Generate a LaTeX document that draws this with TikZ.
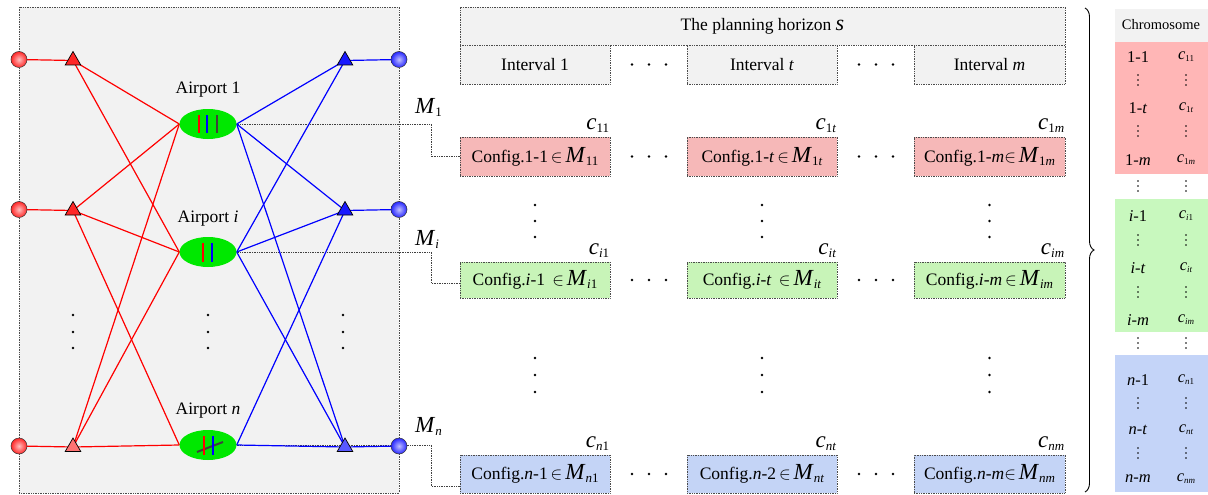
\RequirePackage{fix-cm}
\documentclass[tikz,border=0pt]{standalone}
\usepackage{fontspec}
\setmainfont{Liberation Serif}
\usetikzlibrary{shapes.geometric,decorations.pathreplacing,calc}
\pgfdeclarelayer{back}\pgfdeclarelayer{mid}\pgfsetlayers{back,mid,main}
\definecolor{apgreen}{RGB}{0,232,0}
\definecolor{cfgred}{RGB}{246,184,184}
\definecolor{cfggreen}{RGB}{200,244,184}
\definecolor{cfgblue}{RGB}{196,212,246}
\definecolor{chred}{RGB}{255,182,182}
\definecolor{chgreen}{RGB}{200,248,190}
\definecolor{chblue}{RGB}{196,212,248}
\definecolor{panelgray}{RGB}{242,242,242}
\newcommand{\Msub}[1]{{\fontsize{23}{24}\selectfont\textit{M}}\raisebox{-3pt}{\fontsize{13}{14}\selectfont #1}}
\newcommand{\Csub}[1]{{\fontsize{23}{24}\selectfont\textit{c}}\raisebox{-3pt}{\fontsize{13}{14}\selectfont #1}}
\newcommand{\Csmall}[1]{\textit{c}\raisebox{-2pt}{\fontsize{9}{10}\selectfont #1}}
\begin{document}
\begin{tikzpicture}[x=1pt,y=-1pt,font=\fontsize{17.5}{20}\selectfont,
  redl/.style={red, line width=1.2pt},
  bluel/.style={blue, line width=1.2pt},
  conn/.style={densely dotted, black!75, line width=0.7pt},
  endball/.style={circle, draw=black!80, line width=0.5pt, minimum size=16pt, inner sep=0pt},
  redball/.style={endball, shading=radial, inner color=red!25, outer color=red!85},
  blueball/.style={endball, shading=radial, inner color=blue!25, outer color=blue!85},
  tri/.style={regular polygon, regular polygon sides=3, draw=black, line width=0.7pt, minimum size=18pt, inner sep=0pt},
  airport/.style={ellipse, fill=apgreen, minimum width=57pt, minimum height=30pt, inner sep=0pt},
  frame/.style={draw=black!70, densely dotted, line width=0.7pt, inner sep=0pt, minimum width=150pt},
  clab/.style={anchor=south east, inner sep=1pt},
  chtxt/.style={font=\fontsize{16.5}{18}\selectfont, inner sep=0pt}]
\useasboundingbox (0,0) rectangle (1208,495);

% left panel
\begin{pgfonlayer}{back}
\draw[fill=panelgray, draw=black!70, densely dotted, line width=0.7pt] (19,7) rectangle (399,493);
\end{pgfonlayer}

% end balls
\node[redball] (L1) at (19,59.5) {};
\node[redball] (Li) at (19,209.5) {};
\node[redball] (Ln) at (19,446) {};
\node[blueball] (R1) at (399,59.5) {};
\node[blueball] (Ri) at (399,209.5) {};
\node[blueball] (Rn) at (399,446) {};

% triangles
\node[tri, fill=red!85] (TL1) at (73,60.5) {};
\node[tri, fill=red!85] (TLi) at (73,210.5) {};
\node[tri, fill=red!55] (TLn) at (73,447) {};
\node[tri, fill=blue!90] (TR1) at (345,60.5) {};
\node[tri, fill=blue!90] (TRi) at (345,210.5) {};
\node[tri, fill=blue!65] (TRn) at (345,447) {};

% airports
\node[airport] (A1) at (208,124) {};
\node[airport] (Ai) at (208,252) {};
\node[airport] (An) at (208,445) {};
\node (A1lab) at (208,90) {Airport 1};
\node (Ailab) at (208,219) {Airport \textit{i}};
\node (Anlab) at (208,411) {Airport \textit{n}};

\draw[red, line width=2pt] ($(A1)+(-9,-9)$) -- ++(0,18);
\draw[blue, line width=2pt] ($(A1)+(-1,-9)$) -- ++(0,18);
\draw[black!75, line width=2pt] ($(A1)+(9,-9)$) -- ++(0,18);
\draw[red, line width=2pt] ($(Ai)+(-5,-9)$) -- ++(0,19);
\draw[blue, line width=2pt] ($(Ai)+(4,-9)$) -- ++(0,19);
\draw[black!75, line width=2pt] ($(An)+(-11,7)$) -- ($(An)+(15,-3)$);
\draw[red, line width=2pt] ($(An)+(-4,-9)$) -- ++(0,19);
\draw[blue, line width=2pt] ($(An)+(5,-9)$) -- ++(0,19);

% vertical dots in panel
\foreach \x in {73,208,343}
  \foreach \y in {315,332,348}
    \fill (\x,\y) circle (1.4);

% planning horizon
\node[frame, fill=panelgray, minimum width=605pt, minimum height=38pt] (hor) at (762.5,26) {The planning horizon {\fontsize{22}{24}\selectfont\textit{s}}};
\node[frame, fill=panelgray, minimum height=39pt] (I1) at (535,64.5) {Interval 1};
\node[frame, fill=panelgray, minimum height=39pt] (It) at (762,64.5) {Interval \textit{t}};
\node[frame, fill=panelgray, minimum height=39pt, minimum width=151pt] (Im) at (989.5,64.5) {Interval \textit{m}};

% config rows
\node[frame, fill=cfgred, minimum height=39pt] (c11) at (535,156.5) {Config.1-1\,$\in$\,\Msub{11}};
\node[frame, fill=cfgred, minimum height=39pt] (c1t) at (762,156.5) {Config.1-\textit{t}\,$\in$\,\Msub{1\textit{t}}};
\node[frame, fill=cfgred, minimum height=39pt, minimum width=151pt] (c1m) at (989.5,156.5) {Config.1-\textit{m}$\in$\,\Msub{1\textit{m}}};

\node[frame, fill=cfggreen, minimum height=36pt] (ci1) at (535,280) {Config.\textit{i}-1 \,$\in$\,\Msub{\textit{i}1}};
\node[frame, fill=cfggreen, minimum height=36pt] (cit) at (762,280) {Config.\textit{i}-\textit{t} \,$\in$\,\Msub{\textit{it}}};
\node[frame, fill=cfggreen, minimum height=36pt, minimum width=151pt] (cim) at (989.5,280) {Config.\textit{i}-\textit{m}\,$\in$\,\Msub{\textit{im}}};

\node[frame, fill=cfgblue, minimum height=38pt] (cn1) at (535,474) {Config.\textit{n}-1\,$\in$\,\Msub{\textit{n}1}};
\node[frame, fill=cfgblue, minimum height=38pt] (cnt) at (762,474) {Config.\textit{n}-2\,$\in$\,\Msub{\textit{nt}}};
\node[frame, fill=cfgblue, minimum height=38pt, minimum width=151pt] (cnm) at (989.5,474) {Config.\textit{n}-\textit{m}$\in$\,\Msub{\textit{nm}}};

% c labels
\node[clab] (l11) at ([yshift=3pt]c11.north east) {\Csub{11}};
\node[clab] (l1t) at ([yshift=3pt]c1t.north east) {\Csub{1\textit{t}}};
\node[clab] (l1m) at ([yshift=3pt]c1m.north east) {\Csub{1\textit{m}}};
\node[clab] (li1) at ([yshift=3pt]ci1.north east) {\Csub{\textit{i}1}};
\node[clab] (lit) at ([yshift=3pt]cit.north east) {\Csub{\textit{it}}};
\node[clab] (lim) at ([yshift=3pt]cim.north east) {\Csub{\textit{im}}};
\node[clab] (ln1) at ([yshift=3pt]cn1.north east) {\Csub{\textit{n}1}};
\node[clab] (lnt) at ([yshift=3pt]cnt.north east) {\Csub{\textit{nt}}};
\node[clab] (lnm) at ([yshift=3pt]cnm.north east) {\Csub{\textit{nm}}};

% M labels
\node[anchor=west, inner sep=0pt] (M1) at (415,107) {\Msub{1}};
\node[anchor=west, inner sep=0pt] (Mi) at (415,239) {\Msub{\textit{i}}};
\node[anchor=west, inner sep=0pt] (Mn) at (415,426) {\Msub{\textit{n}}};

% horizontal dots
\foreach \y in {64.5,156.5,280,474}
  \foreach \x in {632,649,666,859,876,893}
    \fill (\x,\y) circle (1.4);
% vertical dots
\foreach \x in {535,762,989.5}
  \foreach \y in {205,221,237,358,375,392}
    \fill (\x,\y) circle (1.4);

% brace
\draw[decorate, decoration={brace, amplitude=9pt}, line width=0.9pt] (1085,8) -- (1085,492);

% chromosome
\fill[panelgray] (1115,9) rectangle (1208,42);
\fill[chred] (1115,42) rectangle (1208,174);
\fill[chgreen] (1115,199) rectangle (1208,332);
\fill[chblue] (1115,355) rectangle (1208,492);
\node[font=\fontsize{14.5}{16}\selectfont] (chr) at (1161,25) {Chromosome};
\foreach \y/\a/\b [count=\k] in {57/1-1/11, 108/1-\textit{t}/1\textit{t}, 160/1-\textit{m}/1\textit{m},
   216/\textit{i}-1/\textit{i}1, 268/\textit{i}-\textit{t}/\textit{it}, 320/\textit{i}-\textit{m}/\textit{im},
   380/\textit{n}-1/\textit{n}1, 430/\textit{n}-\textit{t}/\textit{nt}, 479/\textit{n}-\textit{m}/\textit{nm}}{
  \node[chtxt] (g\k) at (1138,\y) {\a};
  \node[chtxt] (h\k) at (1186,\y) {\Csmall{\b}};
}
\foreach \y in {80,131,186,240,292,343,403,453}
  \foreach \x in {1138,1186}
    \foreach \d in {-5,0,5}
      \fill (\x,\y+\d) circle (0.9);

% connectors
\coordinate (k1) at (431,124);
\coordinate (k1b) at (431,156.5);
\coordinate (ki) at (431,252);
\coordinate (kib) at (431,283);
\coordinate (kn) at (431,445);
\coordinate (knb) at (431,486);
\begin{pgfonlayer}{mid}
\draw[conn] (A1.east) -- (k1) -- (k1b) -- (c11.west);
\draw[conn] (Ai.east) -- (ki) -- (kib) -- (kib -| ci1.west);
\draw[conn] (An.east) -- (kn) -- (knb) -- (knb -| cn1.west);

\draw[redl] (L1.center) -- (TL1.center);
\draw[redl] (Li.center) -- (TLi.center);
\draw[redl] (Ln.center) -- (TLn.center);
\draw[bluel] (R1.center) -- (TR1.center);
\draw[bluel] (Ri.center) -- (TRi.center);
\draw[bluel] (Rn.center) -- (TRn.center);

\draw[redl] (TL1.center) -- (A1.west);
\draw[redl] (TL1.center) -- (Ai.west);
\draw[redl] (TLi.center) -- (A1.west);
\draw[redl] (TLi.center) -- (Ai.west);
\draw[redl] (TLi.center) -- (An.west);
\draw[redl] (TLn.center) -- (A1.west);
\draw[redl] (TLn.center) -- (Ai.west);
\draw[redl] (TLn.center) -- (An.west);

\draw[bluel] (TR1.center) -- (A1.east);
\draw[bluel] (TR1.center) -- (Ai.east);
\draw[bluel] (TRi.center) -- (A1.east);
\draw[bluel] (TRi.center) -- (Ai.east);
\draw[bluel] (TRi.center) -- (An.east);
\draw[bluel] (TRn.center) -- (A1.east);
\draw[bluel] (TRn.center) -- (Ai.east);
\draw[bluel] (TRn.center) -- (An.east);
\end{pgfonlayer}
\end{tikzpicture}
\end{document}
